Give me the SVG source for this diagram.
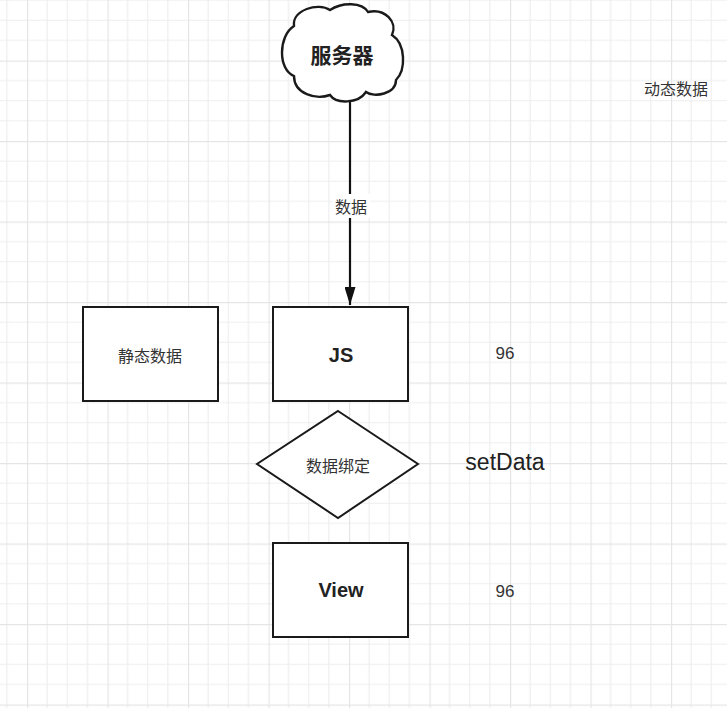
<svg xmlns="http://www.w3.org/2000/svg" width="727" height="708" viewBox="0 0 727 708">
<defs>
<pattern id="grid" patternUnits="userSpaceOnUse" x="27" y="60.5" width="80.5" height="80.5">
<path d="M20.125,0V80.5M40.25,0V80.5M60.375,0V80.5M0,20.125H80.5M0,40.25H80.5M0,60.375H80.5" stroke="#eeeeee" stroke-width="1.2" fill="none"/>
<path d="M0.5,0V80.5M0,0.5H80.5" stroke="#e5e5e5" stroke-width="1.4" fill="none"/>
</pattern>
<marker id="arrow" markerUnits="userSpaceOnUse" markerWidth="18" markerHeight="11" refX="18" refY="5.5" viewBox="0 0 18 11" orient="auto">
<path d="M0,0 L18,5.5 L0,11 Z" fill="#111"/>
</marker>
</defs>
<style>
.shape{fill:#fff;stroke:#1a1a1a;stroke-width:2}
.cn{font-family:"Noto Sans CJK SC","Noto Sans",sans-serif;font-size:16px;fill:#333;text-anchor:middle;dominant-baseline:central}
.bold{font-family:"Liberation Sans","Noto Sans CJK SC",sans-serif;font-size:20px;font-weight:bold;fill:#222;text-anchor:middle;dominant-baseline:central}
.num{font-family:"Liberation Sans",sans-serif;font-size:17px;fill:#333;text-anchor:middle;dominant-baseline:central}
</style>
<rect width="727" height="708" fill="#fff"/>
<rect width="727" height="708" fill="url(#grid)"/>
<g id="connectors">
<line x1="350" y1="101" x2="350" y2="305" stroke="#111" stroke-width="2.2" marker-end="url(#arrow)"/>
<rect x="332" y="194" width="38" height="24" fill="#fff"/>
<text class="cn" x="351" y="206">数据</text>
</g>
<g id="server">
<path class="shape" d="M294,26 C292,10 318,2 330,10 C342,2 362,2 368,12 C385,8 398,22 392,35 C406,44 406,70 396,80 C396,94 374,98 366,92 C358,104 336,104 330,95 C316,100 294,94 294,76 C278,70 278,36 294,26 Z" style="stroke-width:2.4"/>
<text class="bold" x="342" y="54" style="font-family:'Noto Sans CJK SC',sans-serif;font-size:21px">服务器</text>
</g>
<g id="dynamic-label">
<text class="cn" x="676" y="88">动态数据</text>
</g>
<g id="static-data">
<rect class="shape" x="83" y="307" width="135" height="94"/>
<text class="cn" x="150" y="355">静态数据</text>
</g>
<g id="js">
<rect class="shape" x="273" y="307" width="135" height="94"/>
<text class="bold" x="341" y="355">JS</text>
</g>
<g id="num1">
<text class="num" x="505" y="353">96</text>
</g>
<g id="binding">
<path class="shape" d="M338,411 L418,464 L338,518 L257,464 Z"/>
<text class="cn" x="338" y="465">数据绑定</text>
</g>
<g id="setdata">
<text x="505" y="470" style="font-family:'Liberation Sans',sans-serif;font-size:23px;fill:#222;text-anchor:middle">setData</text>
</g>
<g id="view">
<rect class="shape" x="273" y="543" width="135" height="94"/>
<text class="bold" x="341" y="590">View</text>
</g>
<g id="num2">
<text class="num" x="505" y="591">96</text>
</g>
</svg>
